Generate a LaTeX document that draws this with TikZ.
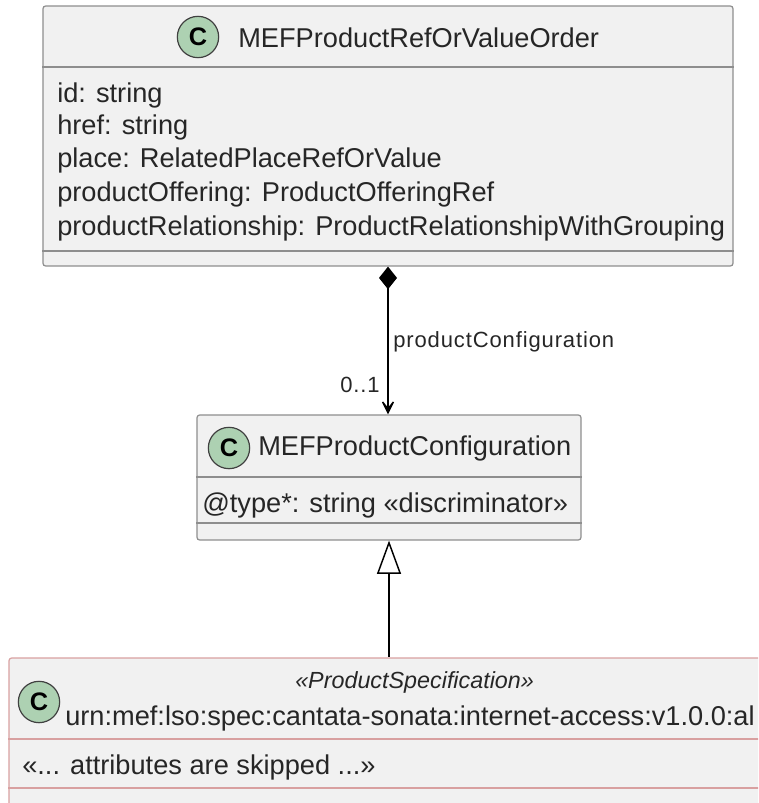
\documentclass[tikz,border=0pt]{standalone}
\usepackage{fontspec}
\setmainfont{Liberation Sans}
\newfontfamily\lblfont[LetterSpace=4]{Liberation Sans}
\usetikzlibrary{arrows.meta}
\definecolor{umlfill}{HTML}{F1F1F1}
\definecolor{umlline}{HTML}{8E8E8E}
\definecolor{specline}{HTML}{D8A0A0}
\definecolor{circfill}{HTML}{ADD1B2}

\begin{document}
\begin{tikzpicture}[x=0.75pt,y=-0.75pt,
  classbox/.style={draw=umlline,fill=umlfill,rounded corners=2pt,inner sep=0pt,line width=0.9pt},
  specbox/.style={classbox,draw=specline},
  sepline/.style={draw=umlline,line width=0.9pt},
  specsep/.style={draw=specline,line width=0.9pt},
  circ/.style={circle,draw=black!75,fill=circfill,line width=0.9pt,minimum size=31pt,inner sep=0pt,font=\fontsize{19}{19}\selectfont\bfseries},
  ctitle/.style={anchor=west,inner sep=0pt,font=\fontsize{20.4}{24}\selectfont,text=black!85},
  attr/.style={anchor=west,inner sep=0pt,font=\fontsize{20.4}{24}\selectfont,text=black!85},
  lbl/.style={inner sep=0pt,font=\lblfont\fontsize{16.5}{19}\selectfont,text=black!85},
  comp/.style={line width=1.1pt,{Diamond[length=17pt,width=13.5pt]}-{Stealth[length=14pt,width=14pt,inset=9pt]}},
  genl/.style={line width=1.1pt,{Triangle[open,length=25pt,width=18pt,fill=white]}-}]
\useasboundingbox (0,0) rectangle (758,803);
\clip (0,0) rectangle (758,803);

% MEFProductRefOrValueOrder
\node[classbox,minimum width=517.5pt,minimum height=195pt] (order) at (388,136) {};
\draw[sepline] (order.west |- 0,67) -- (order.east |- 0,67);
\draw[sepline] (order.west |- 0,251) -- (order.east |- 0,251);
\node[circ] (ordercirc) at (198,37) {C};
\node[ctitle] (ordertitle) at (238,38) {MEFProductRefOrValueOrder};
\foreach \y/\txt [count=\i] in {95/id: string,127/href: string,160/place: RelatedPlaceRefOrValue,
  194/productOffering: ProductOfferingRef,228/productRelationship: ProductRelationshipWithGrouping}
  \node[attr] (orderattr\i) at (57,\y) {\txt};

% MEFProductConfiguration
\node[classbox,minimum width=288pt,minimum height=93.75pt] (config) at (389,477.5) {};
\draw[sepline] (config.west |- 0,477) -- (config.east |- 0,477);
\draw[sepline] (config.west |- 0,523) -- (config.east |- 0,523);
\node[circ] (configcirc) at (229,448) {C};
\node[ctitle] (configtitle) at (258,448) {MEFProductConfiguration};
\node[attr] (configattr) at (202,505) {@type*: string «discriminator»};

% ProductSpecification
\node[specbox,minimum width=600pt,minimum height=150pt] (spec) at (409,758) {};
\draw[specsep] (spec.west |- 0,739) -- (spec.east |- 0,739);
\draw[specsep] (spec.west |- 0,788) -- (spec.east |- 0,788);
\node[circ] (speccirc) at (39,702) {C};
\node[anchor=west,inner sep=0pt,font=\fontsize{17.5}{20}\selectfont\itshape,text=black!85] (specstereo) at (295,682) {«ProductSpecification»};
\node[ctitle] (spectitle) at (65,718) {urn:mef:lso:spec:cantata-sonata:internet-access:v1.0.0:al};
\node[attr] (specattr) at (22,767) {«... attributes are skipped ...»};

% connectors
\draw[comp] (order.south) -- (order.south |- config.north);
\node[lbl,anchor=west] (complbl) at (393,342) {productConfiguration};
\node[lbl,anchor=east] (compmult) at (380,385) {0..1};
\draw[genl] (config.south) -- (config.south |- spec.north);

\end{tikzpicture}
\end{document}
